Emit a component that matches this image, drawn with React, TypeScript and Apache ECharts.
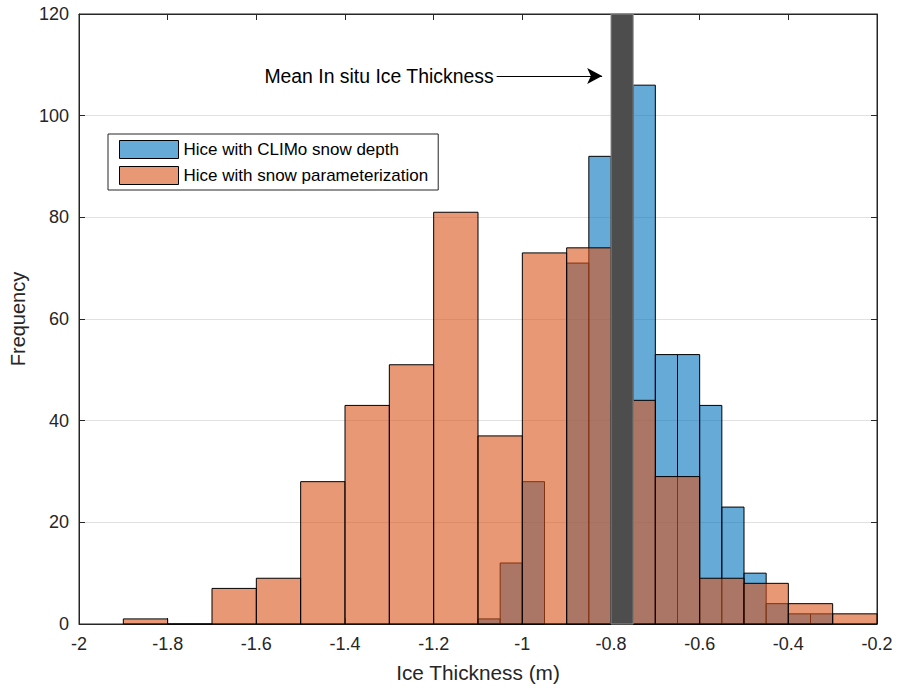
import React, { useEffect, useRef } from "react";
import * as echarts from "echarts";

// Histogram of ice thickness with snow parameterization (bin width 0.1, starting at -1.9)
const paramBinStart = -1.9;
const paramBinWidth = 0.1;
const paramCounts = [1, 0, 7, 9, 28, 43, 51, 81, 37, 73, 74, 44, 29, 9, 8, 4, 2];

// Histogram of ice thickness with CLIMo snow depth (bin width 0.05, starting at -1.1)
const climoBinStart = -1.1;
const climoBinWidth = 0.05;
const climoCounts = [1, 12, 28, 0, 71, 92, 0, 106, 53, 53, 43, 23, 10, 4, 2, 2];

// Mean in situ ice thickness bin
const meanBin = [-0.8, -0.75];
const meanHeight = 120;

const xTicksMin = -2;
const xTicksMax = -0.2;
const yTicksMax = 120;

const seriesNames = ["Hice with CLIMo snow depth", "Hice with snow parameterization"];
const annotationText = "Mean In situ Ice Thickness";
const arrowFrom = [-1.058, 107.8];
const arrowTo = [-0.82, 107.8];

const FONT = "'Liberation Sans', Arial, Helvetica, sans-serif";
const AXIS_COLOR = "#262626";
const BLUE = "rgba(0,114,189,0.6)";
const ORANGE = "rgba(217,83,25,0.6)";

function toBins(start: number, width: number, counts: number[]) {
  return counts.map((c, i) => {
    const x0 = +(start + i * width).toFixed(4);
    const x1 = +(start + (i + 1) * width).toFixed(4);
    return [x0, x1, c];
  });
}

function makeRender(fill: string, stroke: string) {
  return (params: any, api: any) => {
    const x0 = api.value(0);
    const x1 = api.value(1);
    const y = api.value(2);
    const p0 = api.coord([x0, y]);
    const p1 = api.coord([x1, 0]);
    return {
      type: "rect",
      shape: { x: p0[0], y: p0[1], width: p1[0] - p0[0], height: p1[1] - p0[1] },
      style: { fill, stroke, lineWidth: 1 },
    };
  };
}

export default function App() {
  const ref = useRef<HTMLDivElement>(null);

  useEffect(() => {
    if (!ref.current) return;
    const chart = echarts.init(ref.current, undefined, { renderer: "svg" });

    const climoData = toBins(climoBinStart, climoBinWidth, climoCounts).filter((d) => d[2] > 0);
    const paramData = toBins(paramBinStart, paramBinWidth, paramCounts);
    const meanData = [[meanBin[0], meanBin[1], meanHeight]];

    const axisLabelStyle = { color: AXIS_COLOR, fontSize: 18, fontFamily: FONT };

    chart.setOption({
      animation: false,
      backgroundColor: "#fff",
      textStyle: { fontFamily: FONT },
      grid: {
        left: 79,
        top: 14,
        width: 798,
        height: 610,
        show: true,
        borderColor: AXIS_COLOR,
        borderWidth: 1,
        backgroundColor: "transparent",
      },
      legend: {
        orient: "vertical",
        left: 108,
        top: 134,
        padding: [6, 10, 5, 11],
        itemWidth: 59,
        itemHeight: 18,
        itemGap: 7,
        icon: "rect",
        backgroundColor: "#fff",
        borderColor: AXIS_COLOR,
        borderWidth: 1,
        borderRadius: 0,
        textStyle: { fontSize: 17, color: "#000", fontFamily: FONT },
        data: [
          { name: seriesNames[0], itemStyle: { color: BLUE, borderColor: "#000", borderWidth: 1 } },
          { name: seriesNames[1], itemStyle: { color: ORANGE, borderColor: "#000", borderWidth: 1 } },
        ],
      },
      xAxis: [
        {
          type: "value",
          min: xTicksMin,
          max: xTicksMax,
          interval: 0.2,
          name: "Ice Thickness (m)",
          nameLocation: "middle",
          nameGap: 38,
          nameTextStyle: { color: AXIS_COLOR, fontSize: 20.8, fontFamily: FONT },
          axisLine: { show: true, onZero: false, lineStyle: { color: AXIS_COLOR } },
          axisTick: { show: true, inside: true, length: 6, lineStyle: { color: AXIS_COLOR } },
          axisLabel: { ...axisLabelStyle, margin: 11 },
          splitLine: { show: false },
        },
        {
          type: "value",
          position: "top",
          min: xTicksMin,
          max: xTicksMax,
          interval: 0.2,
          axisLine: { show: true, onZero: false, lineStyle: { color: AXIS_COLOR } },
          axisTick: { show: true, inside: true, length: 6, lineStyle: { color: AXIS_COLOR } },
          axisLabel: { show: false },
          splitLine: { show: false },
        },
      ],
      yAxis: [
        {
          type: "value",
          min: 0,
          max: yTicksMax,
          interval: 20,
          name: "Frequency",
          nameLocation: "middle",
          nameGap: 50,
          nameTextStyle: { color: AXIS_COLOR, fontSize: 20, fontFamily: FONT },
          axisLine: { show: true, lineStyle: { color: AXIS_COLOR } },
          axisTick: { show: true, inside: true, length: 6, lineStyle: { color: AXIS_COLOR } },
          axisLabel: { ...axisLabelStyle, margin: 10 },
          splitLine: { show: true, lineStyle: { color: "#e1e1e1", width: 1 } },
        },
        {
          type: "value",
          position: "right",
          min: 0,
          max: yTicksMax,
          interval: 20,
          axisLine: { show: true, lineStyle: { color: AXIS_COLOR } },
          axisTick: { show: true, inside: true, length: 6, lineStyle: { color: AXIS_COLOR } },
          axisLabel: { show: false },
          splitLine: { show: false },
        },
      ],
      series: [
        {
          name: seriesNames[0],
          type: "custom",
          xAxisIndex: 0,
          yAxisIndex: 0,
          itemStyle: { color: BLUE },
          encode: { x: [0, 1], y: 2 },
          renderItem: makeRender(BLUE, "#000"),
          data: climoData,
          z: 2,
        },
        {
          name: seriesNames[1],
          type: "custom",
          xAxisIndex: 0,
          yAxisIndex: 0,
          itemStyle: { color: ORANGE },
          encode: { x: [0, 1], y: 2 },
          renderItem: makeRender(ORANGE, "#000"),
          data: paramData,
          z: 3,
        },
        {
          name: "Mean in situ",
          type: "custom",
          xAxisIndex: 0,
          yAxisIndex: 0,
          encode: { x: [0, 1], y: 2 },
          renderItem: makeRender("#4d4d4d", "#8a8a8a"),
          data: meanData,
          z: 4,
          markLine: {
            silent: true,
            symbol: ["none", "arrow"],
            symbolSize: [12, 15],
            lineStyle: { color: "#000", width: 1, type: "solid" },
            label: {
              show: true,
              position: "start",
              distance: 3,
              formatter: annotationText,
              color: "#000",
              fontSize: 19.4,
              fontFamily: FONT,
            },
            data: [[{ coord: arrowFrom }, { coord: arrowTo }]],
          },
        },
      ],
    });

    return () => chart.dispose();
  }, []);

  return (
    <div
      ref={ref}
      style={{ position: "absolute", left: 0, top: 0, width: 899, height: 691 }}
    />
  );
}
